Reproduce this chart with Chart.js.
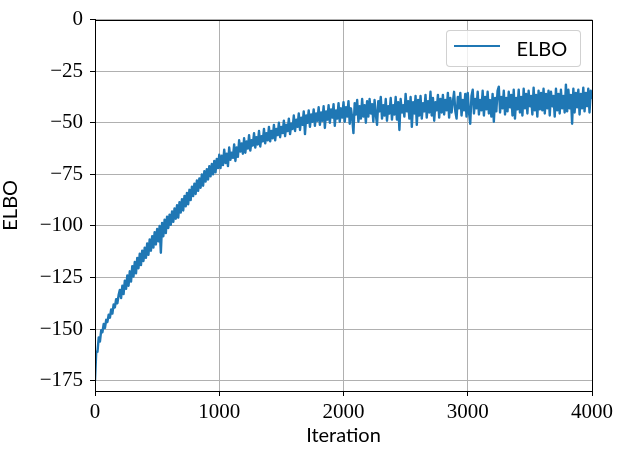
<!DOCTYPE html>
<html>
<head>
<meta charset="utf-8">
<script src="https://cdn.jsdelivr.net/npm/chart.js@4.4.1/dist/chart.umd.min.js"></script>
<style>
  html, body { margin: 0; padding: 0; background: #fff; }
  #wrap { position: relative; width: 622px; height: 456px; }
  #legend {
    position: absolute; left: 445.5px; top: 29.5px; width: 133px; height: 35px;
    border: 1px solid rgba(204,204,204,0.9); border-radius: 4px; background: rgba(255,255,255,0.8);
    font-family: Lato, "Open Sans", sans-serif; font-size: 20px; color: #000;
  }
  #legend .line { position: absolute; left: 7px; top: 14px; width: 46px; height: 2px; }
  #legend .txt { position: absolute; left: 70px; top: 4px; line-height: 26px; }
</style>
</head>
<body>
<div id="wrap">
  <canvas id="c" width="622" height="456"></canvas>
  <div id="legend"></div>
</div>
<script>
// ---- data ----
const seriesName = "ELBO";
const xTitle = "Iteration";
const yTitle = "ELBO";
const iterStep = 10; // one sample every 10 iterations (0..4000)
const elbo = [
 // 0 - 190
 -175, -161, -161, -154, -156, -150.5, -151.5, -147.5, -149.5, -145.5, -146.5, -143, -144.5, -140.5, -142.5, -138, -139.5, -135.5, -137.5, -133.5,
 // 200 - 390
 -131, -135, -129, -133, -126.5, -130.5, -124, -129, -122, -127, -119.5, -124.5, -117.5, -123, -115.5, -120.5, -113.5, -119, -112, -117,
 // 400 - 590
 -110.5, -115.5, -108.5, -114, -106.5, -112, -105, -110.5, -103, -109, -101.5, -107.5, -100, -113, -98.5, -105, -97, -103.5, -95.5, -101,
 // 600 - 790
 -94.5, -99.5, -93, -98, -91.5, -96.5, -90, -96, -88.5, -93.5, -87, -92.5, -85.5, -90.5, -84, -89.5, -82.5, -87.5, -81, -85.5,
 // 800 - 990
 -79.5, -84.5, -78, -83, -77, -81.5, -75, -80.5, -73.5, -78.5, -72.5, -77.5, -71, -76, -70, -75, -68.5, -74, -67.5, -72,
 // 1000 - 1190
 -65.5, -72, -66, -70.5, -63, -69.5, -65, -71, -62, -68, -64.5, -67, -60.5, -68.5, -62, -66.5, -58.5, -64, -60, -65,
 // 1200 - 1390
 -57.5, -64.5, -59, -62.5, -56, -63.5, -58.5, -61, -55, -62, -57, -60.5, -54, -61.5, -56.5, -59, -53, -60, -55, -58.5,
 // 1400 - 1590
 -52, -59, -54, -57.5, -51, -58.5, -53, -56, -50, -57, -52, -55, -49, -56.5, -51, -54, -48, -55.5, -50.5, -53,
 // 1600 - 1790
 -46.5, -54, -48.5, -52, -45.5, -53.5, -47.5, -51, -44.5, -55.5, -46.5, -50, -44, -52, -46, -49.5, -43.5, -51.5, -45.5, -49,
 // 1800 - 1990
 -42.5, -51, -45, -49, -42, -52.5, -44.5, -48.5, -41.5, -50, -43.5, -47.5, -41, -51.5, -44, -48, -40.5, -49.5, -43, -47.5,
 // 2000 - 2190
 -40, -49.5, -42.5, -47, -39.5, -50.5, -43, -47.5, -55, -40.5, -46, -39, -49.5, -42, -48, -38.5, -47, -41.5, -50, -39.5,
 // 2200 - 2390
 -47, -38.5, -45.5, -41, -49.5, -39, -46, -51, -39.5, -44.5, -37.5, -48, -41.5, -46.5, -38.5, -49, -42, -45.5, -38, -48.5,
 // 2400 - 2590
 -41.5, -46, -37.5, -48.5, -40, -53.5, -38.5, -45, -41.5, -47, -36, -44.5, -39.5, -48, -37.5, -52, -40, -45.5, -37, -51,
 // 2600 - 2790
 -39, -46.5, -37, -48, -40.5, -44.5, -36.5, -47.5, -39.5, -45, -35, -46.5, -38, -49, -40, -44, -36.5, -47.5, -38.5, -45,
 // 2800 - 2990
 -36.5, -46, -39, -44, -35.5, -47.5, -38, -45, -40, -35, -44.5, -48, -37.5, -43, -35.5, -46.5, -39, -44, -36, -47,
 // 3000 - 3190
 -35.5, -45, -50.5, -37, -34, -45.5, -38.5, -43, -35, -46, -39, -44, -34.5, -46.5, -37.5, -43.5, -35, -45.5, -39, -47,
 // 3200 - 3390
 -36, -49.5, -38, -44.5, -34.5, -32.5, -45, -37.5, -43, -34.5, -46, -38, -44.5, -35, -42.5, -36.5, -46.5, -34, -48, -38,
 // 3400 - 3590
 -43.5, -34, -45, -37.5, -46.5, -33.5, -43, -36, -45.5, -34.5, -42, -37, -46, -33, -44, -36.5, -47, -34.5, -43.5, -35.5,
 // 3600 - 3790
 -44, -33.5, -45.5, -36, -43, -34.5, -46.5, -35, -42, -37, -47, -33.5, -44, -36, -45.5, -34, -43, -37, -45, -31.5,
 // 3800 - 3990
 -44.5, -34, -43, -36.5, -50.5, -33.5, -45, -35.5, -42.5, -34, -46, -36, -43, -33, -44.5, -35.5, -42, -33.5, -45, -34.5,
 // 4000
 -38
];
const xTicks = [0, 1000, 2000, 3000, 4000];
const yTicks = [-175, -150, -125, -100, -75, -50, -25, 0];
const xRange = [0, 4000];
const yRange = [-180, 0];

// ---- chart ----
const lineColor = "#1f77b4";
const points = elbo.map((v, i) => ({ x: i * iterStep, y: v }));
const fmt = v => String(v).replace("-", "\u2212");
const tickFont = { family: "'Liberation Serif', 'DejaVu Serif', serif", size: 21 };
const titleFont = { family: "Lato, 'Open Sans', sans-serif", size: 20, lineHeight: 1.0 };

const spines = {
  id: "spines",
  afterDraw(chart) {
    const { ctx, chartArea: a } = chart;
    ctx.save();
    ctx.strokeStyle = "#000";
    ctx.lineWidth = 1;
    ctx.strokeRect(Math.round(a.left) + 0.5, Math.round(a.top) + 0.5,
                   Math.round(a.right - a.left), Math.round(a.bottom - a.top));
    ctx.restore();
  }
};

const chart = new Chart(document.getElementById("c"), {
  type: "line",
  data: {
    datasets: [{
      label: seriesName,
      data: points,
      borderColor: lineColor,
      backgroundColor: lineColor,
      borderWidth: 2.4,
      borderJoinStyle: "round",
      borderCapStyle: "round",
      pointRadius: 0,
      tension: 0,
      fill: false
    }]
  },
  options: {
    responsive: false,
    animation: false,
    devicePixelRatio: 1,
    layout: { padding: { left: 0, top: 18, right: 30, bottom: 0 } },
    plugins: { legend: { display: false }, tooltip: { enabled: false } },
    scales: {
      x: {
        type: "linear",
        min: xRange[0], max: xRange[1],
        afterBuildTicks: s => { s.ticks = xTicks.map(v => ({ value: v })); },
        afterFit: s => { s.height = 65; },
        ticks: { callback: v => fmt(v), font: tickFont, color: "#000", padding: 4, maxRotation: 0 },
        grid: { color: "#b0b0b0", lineWidth: 1, tickColor: "#000", tickLength: 5 },
        border: { display: true, color: "#000", width: 1 },
        title: { display: true, text: xTitle, font: titleFont, color: "#000", padding: { top: 0, bottom: 10 } }
      },
      y: {
        type: "linear",
        min: yRange[0], max: yRange[1],
        afterBuildTicks: s => { s.ticks = yTicks.map(v => ({ value: v })); },
        afterFit: s => { s.width = 95; },
        ticks: { callback: v => fmt(v), font: tickFont, color: "#000", padding: 7 },
        grid: { color: "#b0b0b0", lineWidth: 1, tickColor: "#000", tickLength: 5 },
        border: { display: true, color: "#000", width: 1 },
        title: { display: true, text: yTitle, font: titleFont, color: "#000", padding: { top: 1, bottom: 0 } }
      }
    }
  },
  plugins: [spines]
});

// HTML legend built from the dataset
const lg = document.getElementById("legend");
chart.data.datasets.forEach(ds => {
  const l = document.createElement("span"); l.className = "line"; l.style.background = ds.borderColor;
  const t = document.createElement("span"); t.className = "txt"; t.textContent = ds.label;
  lg.appendChild(l); lg.appendChild(t);
});
</script>
</body>
</html>
